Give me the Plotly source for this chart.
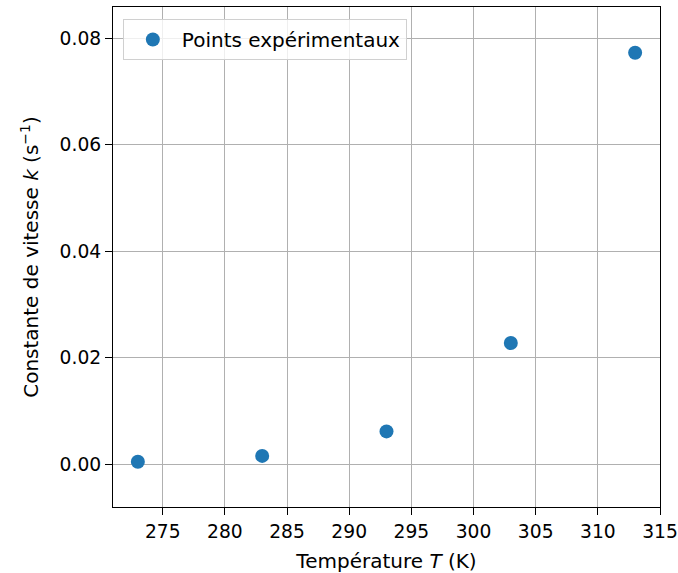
import plotly.graph_objects as go

temperature_K = [273, 283, 293, 303, 313]
rate_k = [0.0005, 0.0016, 0.0062, 0.0228, 0.0773]
x_ticks = [275, 280, 285, 290, 295, 300, 305, 310, 315]
y_ticks = [0.00, 0.02, 0.04, 0.06, 0.08]

fig = go.Figure()
fig.add_trace(go.Scatter(
    x=temperature_K, y=rate_k, mode="markers",
    name="Points expérimentaux",
    marker=dict(color="#1f77b4", size=14, line=dict(width=0)),
))

font = dict(family="DejaVu Sans", size=19, color="black")
fig.update_layout(
    width=678, height=573,
    margin=dict(l=113, r=18, t=7, b=66),
    paper_bgcolor="white", plot_bgcolor="white",
    font=font,
    showlegend=True,
    legend=dict(x=0.018, y=0.976, xanchor="left", yanchor="top",
                bgcolor="rgba(255,255,255,0.8)", bordercolor="#d0d0d0", borderwidth=1,
                itemwidth=48,
                font=dict(family="DejaVu Sans", size=20, color="black")),
)
fig.update_xaxes(
    range=[271, 315], tickvals=x_ticks, ticktext=[str(v) for v in x_ticks],
    automargin=False,
    showgrid=True, gridcolor="#b0b0b0", gridwidth=1,
    showline=True, linecolor="black", linewidth=1.2, mirror=True,
    ticks="outside", ticklen=7, tickcolor="black", zeroline=False,
    tickfont=dict(size=18.7), ticklabeloverflow="allow",
    title=dict(text="Température <i>T</i> (K)", standoff=13, font=dict(size=20)),
)
fig.update_yaxes(
    range=[-0.008, 0.0859], tickvals=y_ticks, ticktext=[f"{v:.2f}" for v in y_ticks],
    automargin=False,
    showgrid=True, gridcolor="#b0b0b0", gridwidth=1,
    showline=True, linecolor="black", linewidth=1.2, mirror=True,
    ticks="outside", ticklen=7, tickcolor="black", zeroline=False,
    tickfont=dict(size=18.7),
    title=dict(text="Constante de vitesse <i>k</i> (s<sup>−1</sup>)", standoff=15, font=dict(size=20)),
)
fig.write_html(
    "out.html",
    config={"displayModeBar": False},
    post_script="document.body.style.margin='0';document.body.style.overflow='hidden';",
)
